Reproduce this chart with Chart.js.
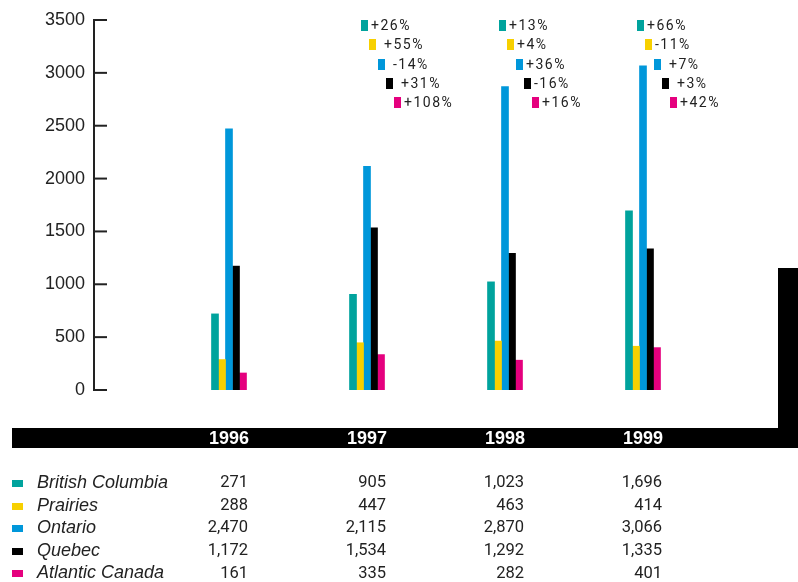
<!DOCTYPE html>
<html lang="en">
<head>
    <meta charset="UTF-8">
    <title>Regional totals 1996-1999</title>
    <script src="https://cdn.jsdelivr.net/npm/chart.js"></script>
    <style>
        body {
            margin: 0;
            background: #fff;
        }
        #wrap {
            width: 798px;
            height: 582px;
        }
    </style>
</head>
<body>
    <div id="wrap">
        <canvas id="regionChart" width="798" height="582"></canvas>
    </div>

    <script>
        const years = ['1996', '1997', '1998', '1999'];
        const regions = ['British Columbia', 'Prairies', 'Ontario', 'Quebec', 'Atlantic Canada'];
        const colors = ['#00A39D', '#F7D000', '#0097DA', '#000000', '#E5007E'];

        // bar heights as drawn (the 1996 BC bar is ~720 even though the table prints 271)
        const britishColumbia = [720, 905, 1023, 1696];
        const prairies = [288, 447, 463, 414];
        const ontario = [2470, 2115, 2870, 3066];
        const quebec = [1172, 1534, 1292, 1335];
        const atlantic = [161, 335, 282, 401];

        const yTicks = [0, 500, 1000, 1500, 2000, 2500, 3000, 3500];

        // table text, as printed
        const tableRows = [
            ['271', '905', '1,023', '1,696'],
            ['288', '447', '463', '414'],
            ['2,470', '2,115', '2,870', '3,066'],
            ['1,172', '1,534', '1,292', '1,335'],
            ['161', '335', '282', '401']
        ];

        // change vs previous year (none for 1996)
        const pct1997 = ['+26%', ' +55%', ' -14%', ' +31%', '+108%'];
        const pct1998 = ['+13%', '+4%', '+36%', '-16%', '+16%'];
        const pct1999 = ['+66%', '-11%', ' +7%', ' +3%', '+42%'];
        const pctLabels = [null, pct1997, pct1998, pct1999];

        const series = [britishColumbia, prairies, ontario, quebec, atlantic];

        const decorPlugin = {
            id: 'decor',
            beforeDraw(chart) {
                const ctx = chart.ctx;
                ctx.save();
                ctx.fillStyle = '#000';
                // black band behind the year labels + right post
                ctx.fillRect(12, 428, 786, 20);
                ctx.fillRect(778, 268, 20, 180);
                ctx.restore();
            },
            afterDraw(chart) {
                const ctx = chart.ctx;
                const x = chart.scales.x;
                const y = chart.scales.y;
                ctx.save();

                // y axis line with inward ticks
                const axisX = 94;
                ctx.strokeStyle = '#222';
                ctx.lineWidth = 2;
                ctx.beginPath();
                ctx.moveTo(axisX, y.getPixelForValue(3500));
                ctx.lineTo(axisX, y.getPixelForValue(0));
                ctx.stroke();
                yTicks.forEach(v => {
                    const py = y.getPixelForValue(v);
                    ctx.beginPath();
                    ctx.moveTo(axisX - 1, py);
                    ctx.lineTo(axisX + 13, py);
                    ctx.stroke();
                });

                // percent change annotations
                ctx.font = '14px Roboto';
                ctx.letterSpacing = '1.5px';
                ctx.textBaseline = 'middle';
                ctx.textAlign = 'left';
                pctLabels.forEach((labels, i) => {
                    if (!labels) return;
                    const cx = x.getPixelForValue(i);
                    labels.forEach((txt, k) => {
                        const sx = Math.round(cx - 6 + k * 8.3);
                        const sy = Math.round(chart.chartArea.top + k * 19.3);
                        ctx.fillStyle = colors[k];
                        ctx.fillRect(sx, sy, 7, 11);
                        ctx.fillStyle = '#222';
                        ctx.fillText(txt, sx + 10, sy + 6);
                    });
                });
                ctx.letterSpacing = '0px';

                // data table
                tableRows.forEach((row, r) => {
                    const ry = 483 + r * 22.6;
                    ctx.fillStyle = colors[r];
                    ctx.fillRect(12, Math.round(ry - 3), 11, 7);
                    ctx.fillStyle = '#222';
                    ctx.font = 'italic 18px Arial';
                    ctx.textAlign = 'left';
                    ctx.fillText(regions[r], 37, ry);
                    ctx.font = '16.5px Roboto';
                    ctx.textAlign = 'right';
                    row.forEach((val, i) => {
                        ctx.fillText(val, x.getPixelForValue(i) + 19, ry);
                    });
                });
                ctx.restore();
            }
        };

        const ctx = document.getElementById('regionChart').getContext('2d');
        new Chart(ctx, {
            type: 'bar',
            data: {
                labels: years,
                datasets: regions.map((name, i) => ({
                    label: name,
                    data: series[i],
                    backgroundColor: colors[i],
                    borderWidth: 0,
                    barThickness: 7
                }))
            },
            options: {
                responsive: false,
                animation: false,
                layout: {
                    padding: { left: 0, right: 86, top: 20, bottom: 132 }
                },
                plugins: {
                    legend: { display: false },
                    tooltip: { enabled: false }
                },
                scales: {
                    x: {
                        grid: { display: false, drawTicks: false },
                        border: { display: false },
                        ticks: {
                            color: '#fff',
                            padding: 38,
                            font: { family: 'Arial', size: 18, weight: 'bold' }
                        },
                        afterFit(scale) { scale.height = 60; }
                    },
                    y: {
                        min: 0,
                        max: 3500,
                        grid: { display: false, drawTicks: false },
                        border: { display: false },
                        afterBuildTicks(scale) {
                            scale.ticks = yTicks.map(v => ({ value: v }));
                        },
                        ticks: {
                            color: '#222',
                            padding: 75,
                            font: { family: 'Arial', size: 18 },
                            callback: v => String(v)
                        },
                        afterFit(scale) {
                            scale.width = 160;
                            scale.paddingTop = 10;
                            scale.paddingBottom = 10;
                        }
                    }
                }
            },
            plugins: [decorPlugin]
        });
    </script>
</body>
</html>
